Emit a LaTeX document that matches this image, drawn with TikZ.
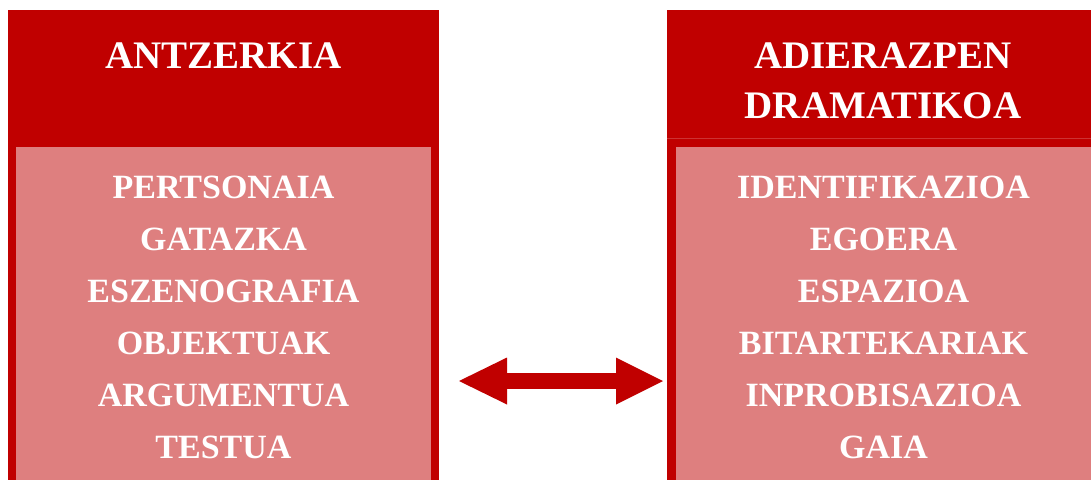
\documentclass[tikz,border=0pt]{standalone}
\usepackage{fontspec}
\setmainfont{Liberation Serif}
\usetikzlibrary{arrows.meta}
\definecolor{darkred}{RGB}{192,0,0}
\definecolor{lightred}{RGB}{222,127,127}
\definecolor{sepred}{RGB}{205,50,50}
\tikzset{
  darkbox/.style={fill=darkred, draw=none, anchor=north west, inner sep=0pt, minimum width=431pt},
  lightbox/.style={fill=lightred, draw=none, anchor=north west, inner sep=0pt, minimum width=415pt, minimum height=340pt},
  headtext/.style={text=white, anchor=base, inner sep=0pt, font=\fontsize{39}{50}\selectfont\bfseries},
  itemtext/.style={text=white, anchor=base, inner sep=0pt, font=\fontsize{34}{52}\selectfont\bfseries},
  bigarrow/.style={draw=darkred, line width=16pt,
    {Triangle[length=48pt,width=47pt,line width=0pt]}-{Triangle[length=47pt,width=47pt,line width=0pt]}}
}
\begin{document}
\begin{tikzpicture}[x=1pt,y=-1pt]
\useasboundingbox (0,0) rectangle (1091,479);
\clip (0,0) rectangle (1091,479);
% left column
\node[darkbox, minimum height=490pt] (lhead) at (8,10) {};
\node[lightbox] (lbody) at (16,147) {};
\node[headtext] (ltitle) at (223.5,68) {ANTZERKIA};
\foreach \t [count=\i] in {PERTSONAIA,GATAZKA,ESZENOGRAFIA,OBJEKTUAK,ARGUMENTUA,TESTUA}
  \node[itemtext] (l\i) at (223.5,{198+52*(\i-1)}) {\t};
% right column
\node[darkbox, minimum height=490pt] (rhead) at (667,10) {};
\draw[sepred, line width=0.8pt] (rhead.west |- 0,138) -- (rhead.east |- 0,138);
\node[lightbox] (rbody) at (676,147) {};
\node[headtext] (rtitle1) at (883,68) {ADIERAZPEN};
\node[headtext] (rtitle2) at (883,118) {DRAMATIKOA};
\foreach \t [count=\i] in {IDENTIFIKAZIOA,EGOERA,ESPAZIOA,BITARTEKARIAK,INPROBISAZIOA,GAIA}
  \node[itemtext] (r\i) at (883.5,{198+52*(\i-1)}) {\t};
% double arrow
\coordinate (al) at (459,381);
\coordinate (ar) at (663,381);
\draw[bigarrow] (al) -- (ar);
\end{tikzpicture}
\end{document}
